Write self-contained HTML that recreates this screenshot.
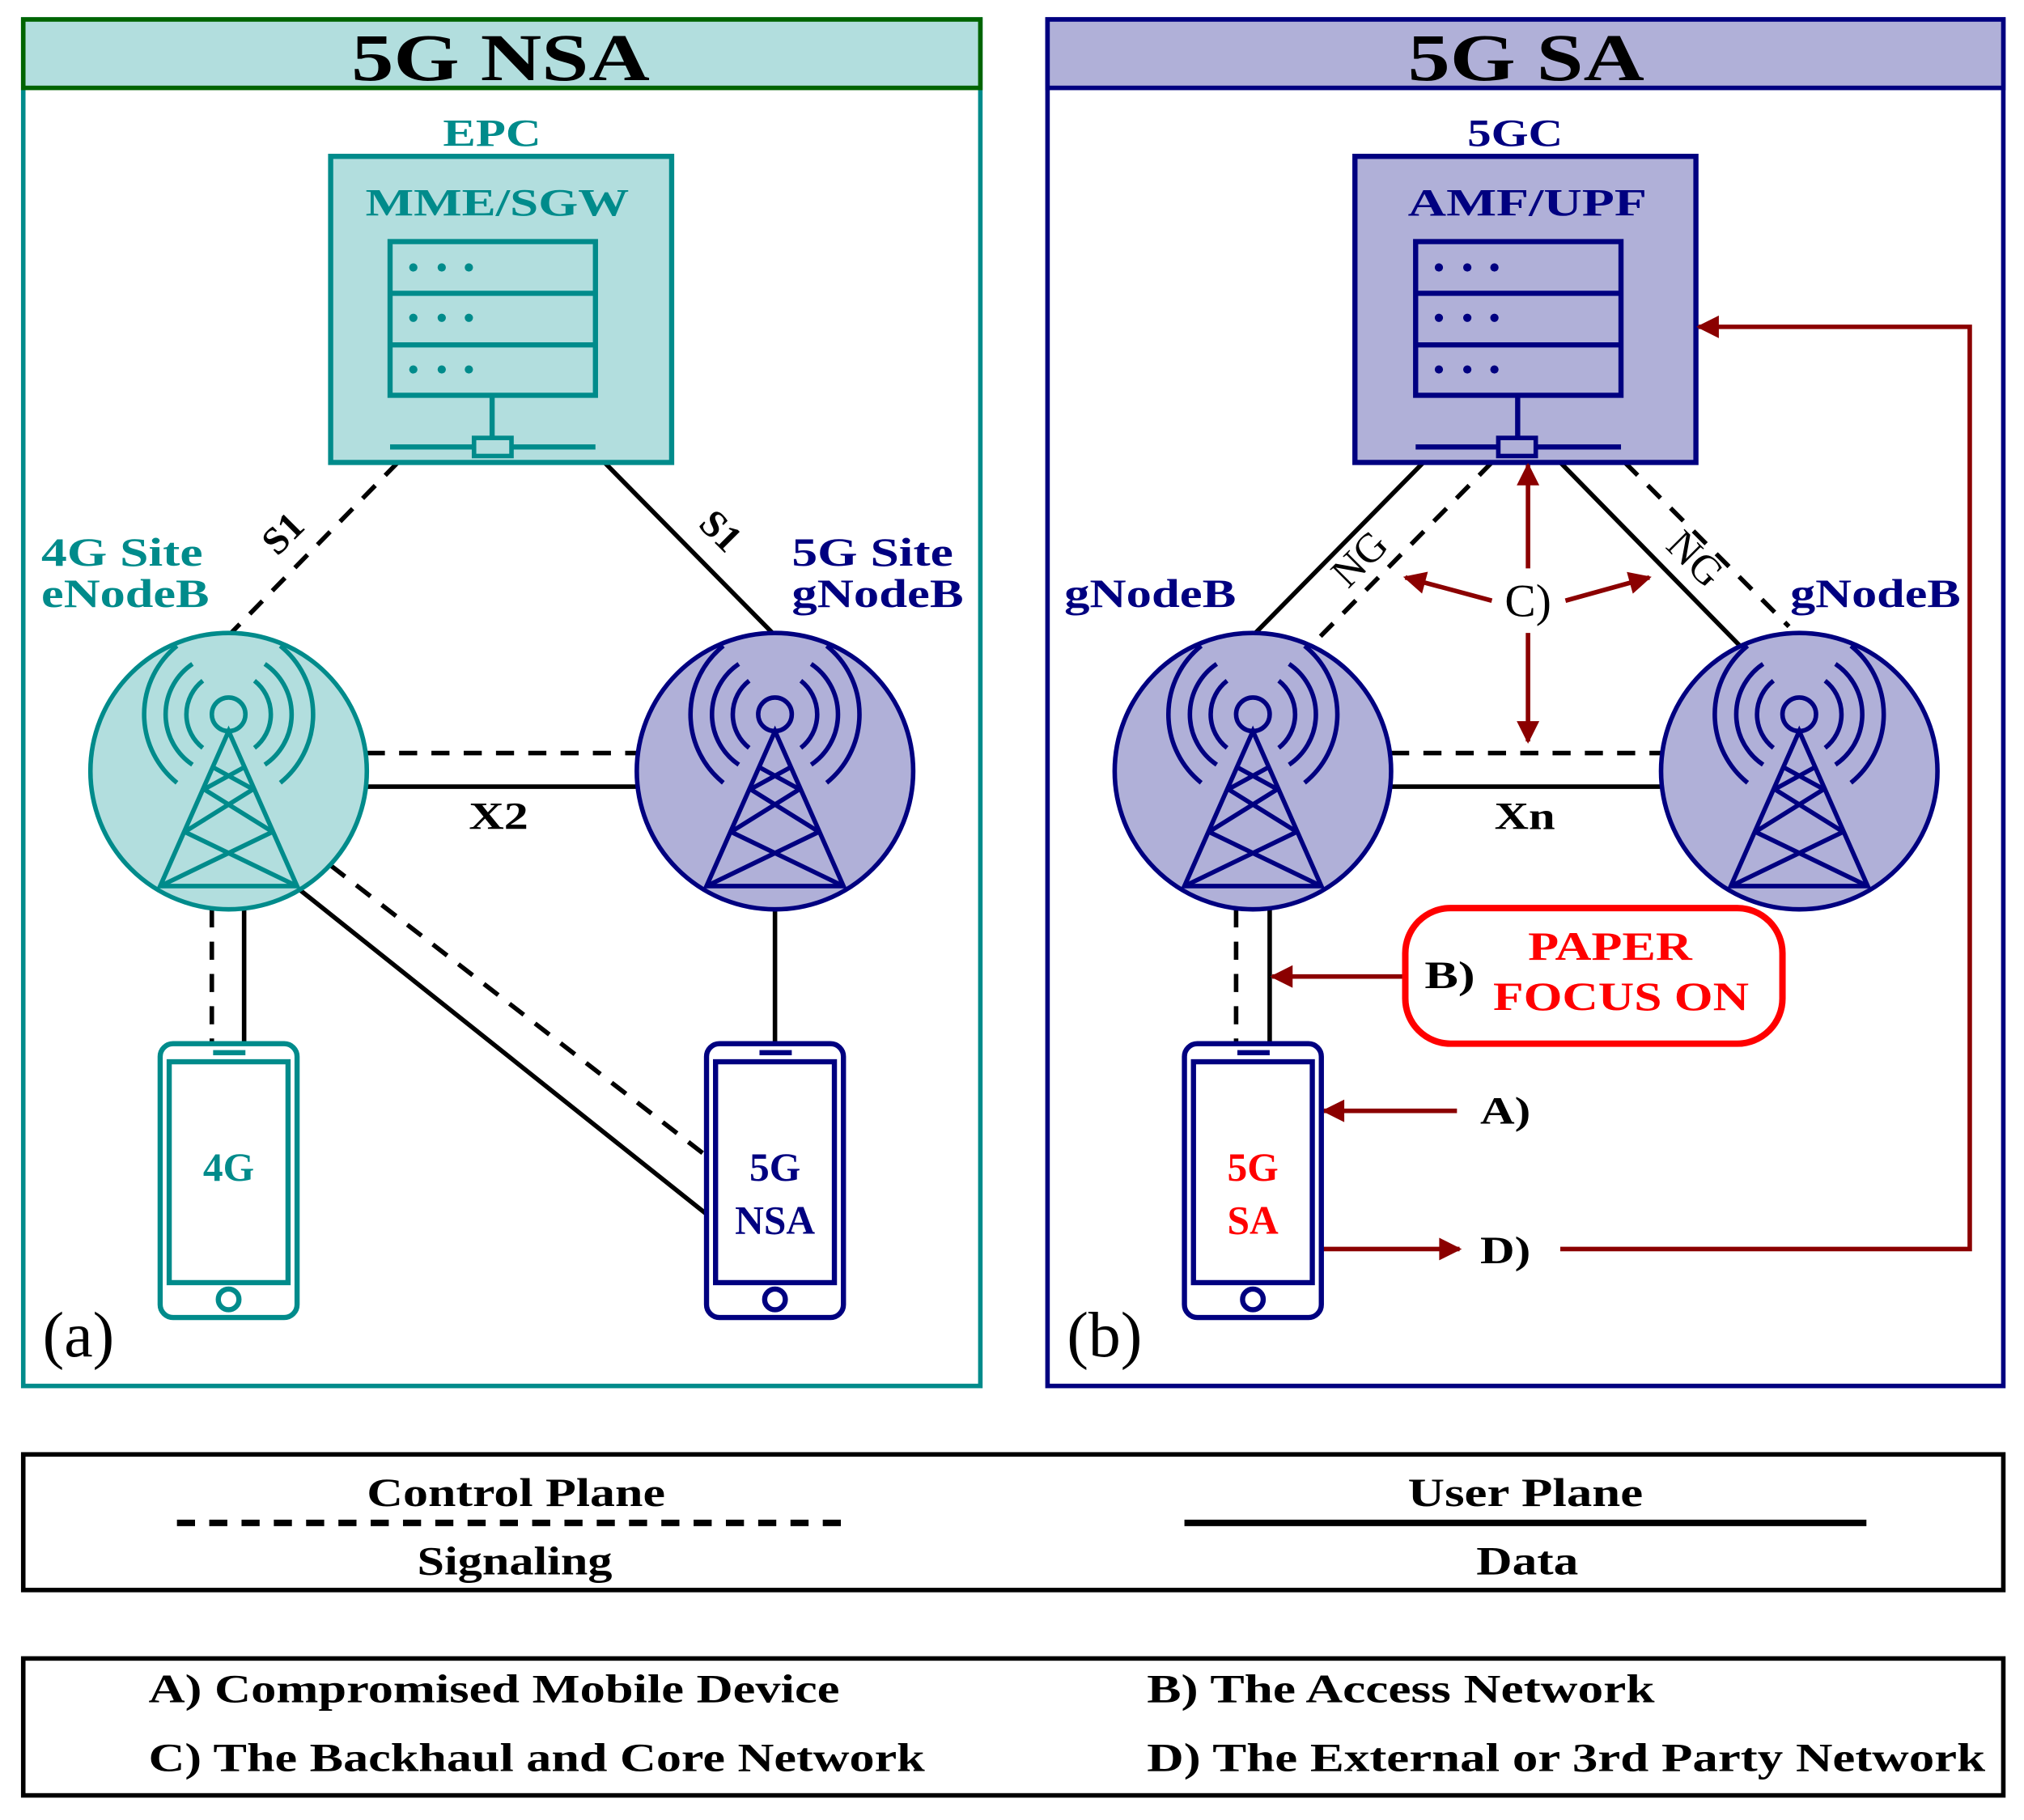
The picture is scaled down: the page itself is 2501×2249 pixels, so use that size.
<!DOCTYPE html>
<html><head><meta charset="utf-8"><style>html,body{margin:0;padding:0;background:#fff}svg{display:block}text{font-family:"Liberation Serif",serif}</style></head>
<body>
<svg xmlns="http://www.w3.org/2000/svg" xmlns:xlink="http://www.w3.org/1999/xlink" width="2501" height="2249" viewBox="0 0 1567 1409">
<defs>
<marker id="ah" viewBox="0 0 10 10" refX="9" refY="5" markerWidth="6.5" markerHeight="5" orient="auto" markerUnits="strokeWidth">
<path d="M0,0 L10,5 L0,10 Z" fill="#8b0000"/></marker>
<g id="tw" fill="none" stroke-width="3.5">
<circle cx="0" cy="-44" r="13"/>
<path d="M-20,-70 A33,33 0 0 0 -20,-18 M20,-70 A33,33 0 0 1 20,-18"/>
<path d="M-28,-83 A47,47 0 0 0 -28,-5 M28,-83 A47,47 0 0 1 28,-5"/>
<path d="M-40,-97 A68,68 0 0 0 -40,9 M40,-97 A68,68 0 0 1 40,9"/>
<path d="M0,-31 L-53,89 L53,89 Z"/>
<path d="M-12,-3 L19,14 M12,-3 L-19,14 M-19,14 L34,47 M19,14 L-34,47 M-34,47 L53,89 M34,47 L-53,89"/>
</g>
<g id="srv" fill="none" stroke-width="4">
<rect x="0" y="0" width="159" height="119"/>
<path d="M0,40 H159 M0,80 H159 M79,119 V152 M0,159 H159"/>
<g stroke="none" fill="currentColor"><circle cx="18" cy="20" r="3.2"/><circle cx="40" cy="20" r="3.2"/><circle cx="61" cy="20" r="3.2"/>
<circle cx="18" cy="59" r="3.2"/><circle cx="40" cy="59" r="3.2"/><circle cx="61" cy="59" r="3.2"/>
<circle cx="18" cy="99" r="3.2"/><circle cx="40" cy="99" r="3.2"/><circle cx="61" cy="99" r="3.2"/></g>
</g>
<g id="ph" fill="none" stroke-width="4">
<rect x="0" y="0" width="106" height="212" rx="10"/>
<rect x="7" y="14" width="92" height="171"/>
<circle cx="53" cy="198" r="8"/>
<path d="M41,7 H66"/>
</g>
</defs>

<!-- LEFT PANEL -->
<rect x="18" y="15" width="741" height="1058" fill="#fff" stroke="#008b8b" stroke-width="3.5"/>
<rect x="18" y="15" width="741" height="53" fill="#b2dede" stroke="#006400" stroke-width="3.5"/>
<text x="272" y="62" font-size="52" font-weight="bold" textLength="231" lengthAdjust="spacingAndGlyphs">5G NSA</text>

<g stroke="#000" stroke-width="3.5" fill="none">
<path d="M308,358 L177,492" stroke-dasharray="14,11"/>
<path d="M468,358 L600,492"/>
<path d="M284,583 H494" stroke-dasharray="14,11"/>
<path d="M284,609 H494"/>
<path d="M164,704 V808" stroke-dasharray="14,11"/>
<path d="M189,704 V808"/>
<path d="M600,704 V808"/>
<path d="M231,688 L547,940"/>
<path d="M256,670 L547,895" stroke-dasharray="14,11"/>
</g>
<text x="226" y="420" font-size="30" font-weight="bold" text-anchor="middle" transform="rotate(-45 226 420)">S1</text>
<text x="551" y="418" font-size="30" font-weight="bold" text-anchor="middle" transform="rotate(45 551 418)">S1</text>
<text x="363" y="642" font-size="30" font-weight="bold" textLength="46" lengthAdjust="spacingAndGlyphs">X2</text>

<text x="343" y="113" font-size="30" font-weight="bold" fill="#008b8b" textLength="76" lengthAdjust="spacingAndGlyphs">EPC</text>
<rect x="256" y="121" width="264" height="237" fill="#b2dede" stroke="#008b8b" stroke-width="4"/>
<text x="283" y="167" font-size="30" font-weight="bold" fill="#008b8b" textLength="204" lengthAdjust="spacingAndGlyphs">MME/SGW</text>
<use xlink:href="#srv" x="302" y="187" stroke="#008b8b" color="#008b8b"/>
<rect x="367" y="339" width="29" height="14" fill="#b2dede" stroke="#008b8b" stroke-width="3.5"/>

<circle cx="177" cy="597" r="107" fill="#b2dede" stroke="#008b8b" stroke-width="3.5"/>
<use xlink:href="#tw" x="177" y="597" stroke="#008b8b"/>
<circle cx="600" cy="597" r="107" fill="#b0b0d8" stroke="#000080" stroke-width="3.5"/>
<use xlink:href="#tw" x="600" y="597" stroke="#000080"/>

<text x="32" y="438" font-size="31" font-weight="bold" fill="#008b8b" textLength="125" lengthAdjust="spacingAndGlyphs">4G Site</text>
<text x="32" y="470" font-size="31" font-weight="bold" fill="#008b8b" textLength="130" lengthAdjust="spacingAndGlyphs">eNodeB</text>
<text x="613" y="438" font-size="31" font-weight="bold" fill="#000080" textLength="125" lengthAdjust="spacingAndGlyphs">5G Site</text>
<text x="613" y="470" font-size="31" font-weight="bold" fill="#000080" textLength="133" lengthAdjust="spacingAndGlyphs">gNodeB</text>

<use xlink:href="#ph" x="124" y="808" stroke="#008b8b"/>
<text x="177" y="914" font-size="31" font-weight="bold" fill="#008b8b" text-anchor="middle">4G</text>
<use xlink:href="#ph" x="547" y="808" stroke="#000080"/>
<text x="600" y="914" font-size="31" font-weight="bold" fill="#000080" text-anchor="middle">5G</text>
<text x="600" y="955" font-size="31" font-weight="bold" fill="#000080" text-anchor="middle">NSA</text>
<text x="33" y="1050" font-size="50">(a)</text>

<!-- RIGHT PANEL -->
<rect x="811" y="15" width="740" height="1058" fill="#fff" stroke="#000080" stroke-width="3.5"/>
<rect x="811" y="15" width="740" height="53" fill="#b0b0d8" stroke="#000080" stroke-width="3.5"/>
<text x="1090" y="62" font-size="52" font-weight="bold" textLength="183" lengthAdjust="spacingAndGlyphs">5G SA</text>

<g stroke="#000" stroke-width="3.5" fill="none">
<path d="M1102,358 L970,492"/>
<path d="M1155,358 L1015,500" stroke-dasharray="14,11"/>
<path d="M1208,358 L1352,505"/>
<path d="M1258,358 L1385,485" stroke-dasharray="14,11"/>
<path d="M1077,583 H1287" stroke-dasharray="14,11"/>
<path d="M1077,609 H1287"/>
<path d="M957,704 V808" stroke-dasharray="14,11"/>
<path d="M983,704 V808"/>
</g>
<text x="1060" y="440" font-size="32" text-anchor="middle" transform="rotate(-45 1060 440)">NG</text>
<text x="1305" y="440" font-size="32" text-anchor="middle" transform="rotate(45 1305 440)">NG</text>
<text x="1157" y="642" font-size="30" font-weight="bold" textLength="47" lengthAdjust="spacingAndGlyphs">Xn</text>

<text x="1136" y="113" font-size="30" font-weight="bold" fill="#000080" textLength="74" lengthAdjust="spacingAndGlyphs">5GC</text>
<rect x="1049" y="121" width="264" height="237" fill="#b0b0d8" stroke="#000080" stroke-width="4"/>
<text x="1090" y="167" font-size="30" font-weight="bold" fill="#000080" textLength="185" lengthAdjust="spacingAndGlyphs">AMF/UPF</text>
<use xlink:href="#srv" x="1096" y="187" stroke="#000080" color="#000080"/>
<rect x="1160" y="339" width="29" height="14" fill="#b0b0d8" stroke="#000080" stroke-width="3.5"/>

<circle cx="970" cy="597" r="107" fill="#b0b0d8" stroke="#000080" stroke-width="3.5"/>
<use xlink:href="#tw" x="970" y="597" stroke="#000080"/>
<circle cx="1393" cy="597" r="107" fill="#b0b0d8" stroke="#000080" stroke-width="3.5"/>
<use xlink:href="#tw" x="1393" y="597" stroke="#000080"/>
<text x="824" y="470" font-size="31" font-weight="bold" fill="#000080" textLength="133" lengthAdjust="spacingAndGlyphs">gNodeB</text>
<text x="1386" y="470" font-size="31" font-weight="bold" fill="#000080" textLength="132" lengthAdjust="spacingAndGlyphs">gNodeB</text>

<g stroke="#8b0000" stroke-width="3.5" fill="none" marker-end="url(#ah)">
<path d="M1183,440 V360"/>
<path d="M1183,490 V574"/>
<path d="M1155,465 L1088,447"/>
<path d="M1212,465 L1277,447"/>
<path d="M1088,756 H985"/>
<path d="M1128,860 H1025"/>
<path d="M1023,967 H1130"/>
<path d="M1208,967 H1525 V253 H1315"/>
</g>
<text x="1183" y="477" font-size="36" text-anchor="middle">C)</text>

<rect x="1088" y="703" width="292" height="105" rx="35" fill="#fff" stroke="#ff0000" stroke-width="5"/>
<text x="1103" y="765" font-size="30" font-weight="bold" textLength="39" lengthAdjust="spacingAndGlyphs">B)</text>
<text x="1183" y="743" font-size="31" font-weight="bold" fill="#ff0000" textLength="127" lengthAdjust="spacingAndGlyphs">PAPER</text>
<text x="1156" y="782" font-size="31" font-weight="bold" fill="#ff0000" textLength="198" lengthAdjust="spacingAndGlyphs">FOCUS ON</text>

<use xlink:href="#ph" x="917" y="808" stroke="#000080"/>
<text x="970" y="914" font-size="31" font-weight="bold" fill="#ff0000" text-anchor="middle">5G</text>
<text x="970" y="955" font-size="31" font-weight="bold" fill="#ff0000" text-anchor="middle">SA</text>
<text x="1146" y="870" font-size="30" font-weight="bold" textLength="39" lengthAdjust="spacingAndGlyphs">A)</text>
<text x="1146" y="978" font-size="30" font-weight="bold" textLength="39" lengthAdjust="spacingAndGlyphs">D)</text>
<text x="826" y="1050" font-size="50">(b)</text>

<!-- LEGEND -->
<rect x="18" y="1126" width="1533" height="105" fill="#fff" stroke="#000" stroke-width="3.5"/>
<text x="284" y="1166" font-size="31" font-weight="bold" textLength="231" lengthAdjust="spacingAndGlyphs">Control Plane</text>
<path d="M137,1179 H653" stroke="#000" stroke-width="5" stroke-dasharray="14,11"/>
<text x="323" y="1219" font-size="31" font-weight="bold" textLength="151" lengthAdjust="spacingAndGlyphs">Signaling</text>
<text x="1090" y="1166" font-size="31" font-weight="bold" textLength="182" lengthAdjust="spacingAndGlyphs">User Plane</text>
<path d="M917,1179 H1445" stroke="#000" stroke-width="5"/>
<text x="1143" y="1219" font-size="31" font-weight="bold" textLength="79" lengthAdjust="spacingAndGlyphs">Data</text>

<rect x="18" y="1284" width="1533" height="106" fill="#fff" stroke="#000" stroke-width="3.5"/>
<text x="115" y="1318" font-size="31" font-weight="bold" textLength="535" lengthAdjust="spacingAndGlyphs">A) Compromised Mobile Device</text>
<text x="115" y="1371" font-size="31" font-weight="bold" textLength="601" lengthAdjust="spacingAndGlyphs">C) The Backhaul and Core Network</text>
<text x="888" y="1318" font-size="31" font-weight="bold" textLength="393" lengthAdjust="spacingAndGlyphs">B) The Access Network</text>
<text x="888" y="1371" font-size="31" font-weight="bold" textLength="649" lengthAdjust="spacingAndGlyphs">D) The External or 3rd Party Network</text>
</svg>
</body></html>
